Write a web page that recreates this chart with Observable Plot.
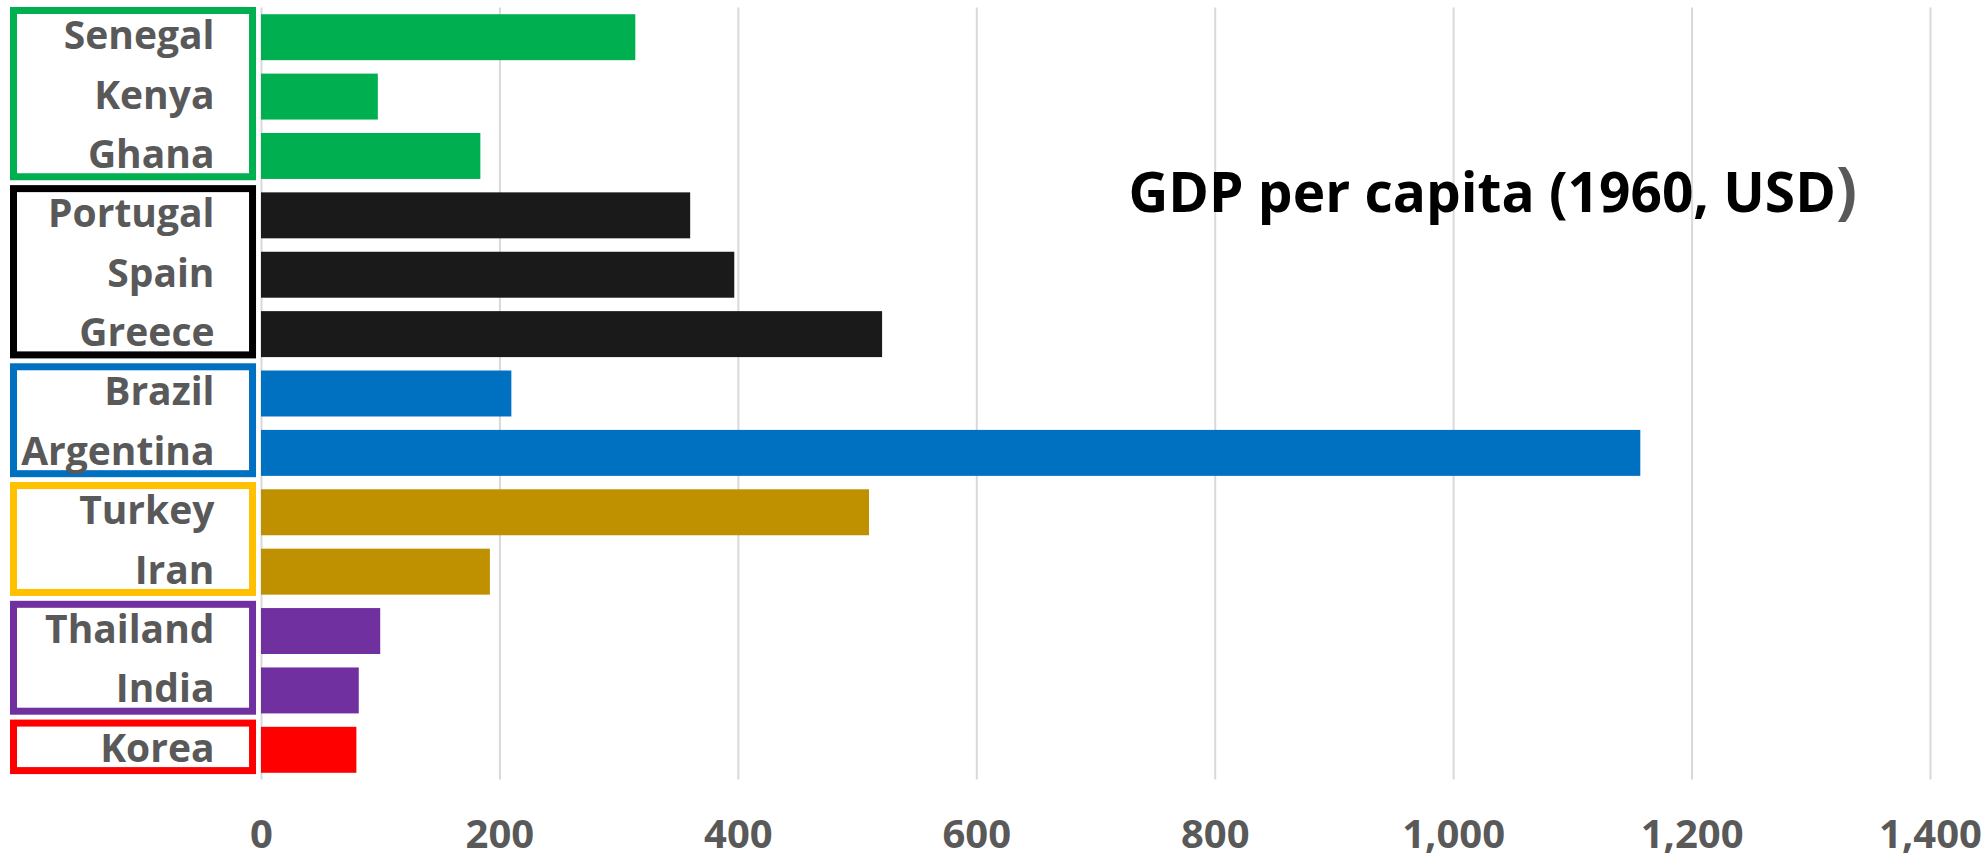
<!DOCTYPE html>
<html>
<head>
<meta charset="utf-8">
<script src="https://cdn.jsdelivr.net/npm/d3@7"></script>
<script src="https://cdn.jsdelivr.net/npm/@observablehq/plot@0.6"></script>
<style>
html, body { margin: 0; padding: 0; background: #fff; }
#chart svg { display: block; }
</style>
</head>
<body>
<div id="chart"></div>
<script>
// ---- data ----
const countries = ["Senegal", "Kenya", "Ghana", "Portugal", "Spain", "Greece", "Brazil", "Argentina", "Turkey", "Iran", "Thailand", "India", "Korea"];
const gdp1960 = [314, 98, 184, 360, 397, 521, 210, 1157, 510, 192, 100, 82, 80];
const groupOf = ["Africa", "Africa", "Africa", "Southern Europe", "Southern Europe", "Southern Europe", "Latin America", "Latin America", "Middle East", "Middle East", "Asia", "Asia", "Korea"];
const groupNames = ["Africa", "Southern Europe", "Latin America", "Middle East", "Asia", "Korea"];
const barColors = ["#00B050", "#1A1A1A", "#0070C0", "#BF9000", "#7030A0", "#FF0000"];
const boxColors = ["#00B050", "#000000", "#0070C0", "#FFC000", "#7030A0", "#FF0000"];
const xTicks = [0, 200, 400, 600, 800, 1000, 1200, 1400];
const titleText = "GDP per capita (1960, USD)";

// ---- build tables ----
const data = countries.map((c, i) => ({country: c, value: gdp1960[i], group: groupOf[i], idx: i}));
const boxes = groupNames.map((g, k) => {
  const idxs = data.filter(d => d.group === g).map(d => d.idx);
  return {group: g, first: d3.min(idxs), last: d3.max(idxs), color: boxColors[k]};
});
const fillOf = d => barColors[groupNames.indexOf(d.group)];

const HALF = 0.387;          // half bar thickness in row units
const FONT = "'Open Sans', 'Noto Sans', sans-serif";

const chart = Plot.plot({
  width: 1987,
  height: 863,
  marginLeft: 261,
  marginRight: 57,
  marginTop: 7.5,
  marginBottom: 83.5,
  style: {fontFamily: FONT, fontWeight: "bold", fontSize: "40px", color: "#595959", background: "#fff", overflow: "visible"},
  color: {type: "identity"},
  x: {domain: [0, 1400], ticks: xTicks, tickFormat: d3.format(","), tickSize: 0, tickPadding: 40, label: null},
  y: {type: "linear", domain: [12.5, -0.5], axis: null},
  marks: [
    Plot.ruleX(xTicks, {stroke: "#D9D9D9", strokeWidth: 2}),
    Plot.rect(boxes, {
      x1: -207.6, x2: -7.1,
      y1: d => d.first - 0.45, y2: d => d.last + 0.35,
      fill: "white", stroke: "color", strokeWidth: 7
    }),
    Plot.rect(data, {x1: 0, x2: "value", y1: d => d.idx - HALF, y2: d => d.idx + HALF, fill: fillOf}),
    Plot.text(data, {
      x: 0, y: "idx", text: "country", textAnchor: "end", dx: -47, dy: -1,
      fill: "#595959", fontSize: 39, fontWeight: "bold", fontFamily: FONT
    }),
    Plot.text([titleText], {
      frameAnchor: "top-left", lineAnchor: "top", textAnchor: "start",
      dx: 867, dy: 165,
      fill: "black", fontSize: 55, fontWeight: "bold", fontFamily: FONT
    })
  ]
});

// colour the closing parenthesis of the title grey, as in the reference
d3.select(chart).selectAll("text").each(function() {
  if (this.textContent === titleText) {
    const sel = d3.select(this);
    sel.text(null);
    sel.append("tspan").text(titleText.slice(0, -1));
    sel.append("tspan").attr("fill", "#595959").attr("font-size", 62).text(titleText.slice(-1));
  }
});

document.getElementById("chart").appendChild(chart);
</script>
</body>
</html>
